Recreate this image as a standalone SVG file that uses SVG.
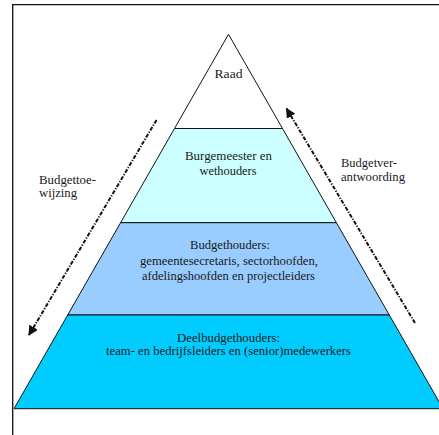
<svg xmlns="http://www.w3.org/2000/svg" width="439" height="435" viewBox="0 0 439 435">
<style>
.lay{stroke:#111;stroke-width:1}
.t{font-family:"Liberation Serif","Times New Roman",serif;font-size:12.5px;fill:#1a1a1a;text-anchor:middle}
.s{font-family:"Liberation Serif","Times New Roman",serif;font-size:12.5px;fill:#1a1a1a}
.flow{fill:none;stroke:#111;stroke-width:2;stroke-dasharray:4 1.5 1.2 1.5}
</style>
<defs>
<marker id="ah" viewBox="0 0 10 10" refX="9" refY="5" markerWidth="5" markerHeight="5" orient="auto" markerUnits="strokeWidth">
<path d="M0,0 L10,5 L0,10 Z" fill="#111"/>
</marker>
</defs>
<rect width="439" height="435" fill="#fff"/>
<path d="M12.7,435 V4.7 H439" fill="none" stroke="#111" stroke-width="1.3"/>
<g id="raad">
<polygon class="lay" points="228.5,34.3 174.5,128.5 282.5,128.5" fill="#ffffff"/>
<text class="t" x="228.5" y="78" textLength="28" lengthAdjust="spacingAndGlyphs">Raad</text>
</g>
<g id="burgemeester">
<polygon class="lay" points="174.5,128.5 282.5,128.5 336.4,222.7 120.6,222.7" fill="#ccffff"/>
<text class="t" x="228.5" y="160" textLength="87" lengthAdjust="spacingAndGlyphs">Burgemeester en</text>
<text class="t" x="228" y="174.5" textLength="57" lengthAdjust="spacingAndGlyphs">wethouders</text>
</g>
<g id="budgethouders">
<polygon class="lay" points="120.6,222.7 336.4,222.7 389.3,315 67.7,315" fill="#99ccff"/>
<text class="t" x="230" y="249" textLength="80" lengthAdjust="spacingAndGlyphs">Budgethouders:</text>
<text class="t" x="229" y="264.5" textLength="178" lengthAdjust="spacingAndGlyphs">gemeentesecretaris, sectorhoofden,</text>
<text class="t" x="228.5" y="279.5" textLength="173" lengthAdjust="spacingAndGlyphs">afdelingshoofden en projectleiders</text>
</g>
<g id="deelbudgethouders">
<polygon class="lay" points="67.7,315 389.3,315 443,408.7 14,408.7" fill="#00ccff"/>
<text class="t" x="228.5" y="341.5" textLength="103" lengthAdjust="spacingAndGlyphs">Deelbudgethouders:</text>
<text class="t" x="228.5" y="355" textLength="245" lengthAdjust="spacingAndGlyphs">team- en bedrijfsleiders en (senior)medewerkers</text>
</g>
<g id="connectors">
<line class="flow" x1="156.5" y1="120" x2="29" y2="335" marker-end="url(#ah)"/>
<line class="flow" x1="415" y1="323" x2="286.5" y2="108.5" marker-end="url(#ah)"/>
</g>
<g id="label-toewijzing">
<text class="s" x="39" y="184" textLength="57" lengthAdjust="spacingAndGlyphs">Budgettoe-</text>
<text class="s" x="39" y="196.5" textLength="38" lengthAdjust="spacingAndGlyphs">wijzing</text>
</g>
<g id="label-verantwoording">
<text class="s" x="341" y="167" textLength="56" lengthAdjust="spacingAndGlyphs">Budgetver-</text>
<text class="s" x="341" y="180.5" textLength="64" lengthAdjust="spacingAndGlyphs">antwoording</text>
</g>
</svg>
